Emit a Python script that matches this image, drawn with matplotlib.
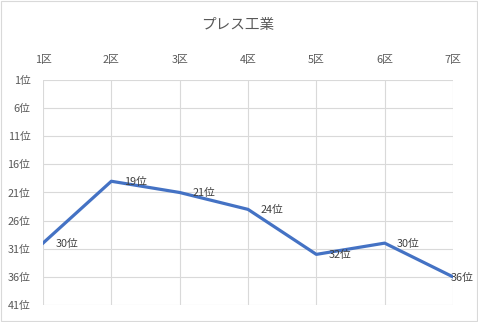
import matplotlib
matplotlib.use('Agg')
import matplotlib.pyplot as plt

plt.rcParams['font.family'] = ['Noto Sans CJK JP', 'DejaVu Sans']

title = 'プレス工業'
sections = ['1区', '2区', '3区', '4区', '5区', '6区', '7区']
ranks = [30, 19, 21, 24, 32, 30, 36]
rank_ticks = [1, 6, 11, 16, 21, 26, 31, 36, 41]

fig = plt.figure(figsize=(4.78, 3.22), dpi=100)
ax = fig.add_axes([43/478, 1-305/322, 410/478, 225/322])

x = list(range(len(sections)))
ax.plot(x, ranks, color='#4472C4', linewidth=2.3, solid_joinstyle='round', zorder=3)

for i, r in enumerate(ranks):
    dx = 9 if i < len(ranks) - 1 else -2
    ax.annotate(f'{r}位', (i, r), xytext=(dx, -0.5), textcoords='offset points',
                ha='left', va='center', fontsize=7.8, color='#404040',
                annotation_clip=False, zorder=4)

ax.set_xlim(0, len(sections) - 1)
ax.set_ylim(41, 1)
ax.set_xticks(x)
ax.set_xticklabels(sections)
ax.set_yticks(rank_ticks)
ax.set_yticklabels([f'{t}位' for t in rank_ticks])
ax.xaxis.tick_top()
ax.tick_params(axis='x', length=0, pad=11, labelsize=7.8, labelcolor='#595959')
ax.tick_params(axis='y', length=0, pad=9, labelsize=7.8, labelcolor='#595959')
ax.grid(True, color='#D9D9D9', linewidth=0.8)
ax.set_axisbelow(True)
for s in ax.spines.values():
    s.set_visible(False)

fig.text(0.497, 1-25/322, title, ha='center', va='center', fontsize=10.5, color='#595959')

border = plt.Rectangle((0.002, 0.003), 0.996, 0.994, transform=fig.transFigure,
                       fill=False, edgecolor='#D9D9D9', linewidth=0.8)
fig.patches.append(border)

fig.savefig('out.png', dpi=100)
